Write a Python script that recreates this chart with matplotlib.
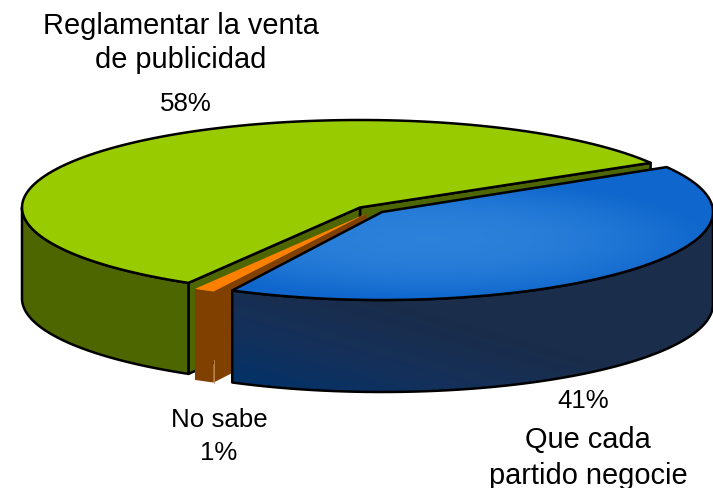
import numpy as np
import matplotlib
matplotlib.use("Agg")
import matplotlib.pyplot as plt
from matplotlib.patches import Polygon
from matplotlib.colors import LinearSegmentedColormap

plt.rcParams['font.family'] = ['Liberation Sans', 'DejaVu Sans']

# data
categories = ["Reglamentar la venta\nde publicidad", "No sabe", "Que cada\npartido negocie"]
values = [58, 1, 41]
percent_labels = ["58%", "1%", "41%"]

# projection / style
START = 30.7
RX, RY, DEPTH = 338, 87.5, 91
BLUE_RX, BLUE_RY, BLUE_DEPTH = 331, 88, 92
CENTERS = [(360, 208.5), (366.5, 214.5), (382, 213)]
LW = 1.8

fig = plt.figure(figsize=(7.13, 4.89), dpi=100)
ax = fig.add_axes([0, 0, 1, 1])


def rim(c, a0, a1, n=120, rx=RX, ry=RY):
    t = np.radians(np.linspace(a0, a1, n))
    return np.column_stack([c[0] + rx * np.cos(t), c[1] - ry * np.sin(t)])


def down(p, d=DEPTH):
    return p + np.array([0, d])


def poly(pts, fc, ec='black', lw=LW, z=1):
    p = Polygon(pts, closed=True, fc=fc, ec=ec, lw=lw, zorder=z, joinstyle='round')
    ax.add_patch(p)
    return p


def grad(patch, arr, cmap, z):
    im = ax.imshow(arr, extent=[0, 713, 489, 0], cmap=cmap, vmin=0, vmax=1,
                   aspect='auto', zorder=z, interpolation='bilinear')
    im.set_clip_path(patch)


edges = START + np.cumsum([0] + values) * 3.6
(g0, g1), (o0, o1), (b0, b1) = zip(edges[:-1], edges[1:])
cg, co, cb = [np.array(c, float) for c in CENTERS]
yy, xx = np.mgrid[0:489, 0:713]

# --- green slice
for a in (g0, g1):
    r = rim(cg, a, a, 1)[0]
    poly([cg, r, down(r), down(cg)], '#4D6600', z=1)
arc = rim(cg, 180, g1)
poly(np.vstack([arc, down(arc)[::-1]]), '#4D6600', z=2)
poly(np.vstack([[cg], rim(cg, g0, g1)]), '#99CC00', z=3)

# --- orange slice
r0, r1 = rim(co, o0, o0, 1)[0], rim(co, o1, o1, 1)[0]
poly([co, r1, down(r1), down(co)], '#804000', ec='none', z=4)
arc = rim(co, o0, o1, 12)
poly(np.vstack([arc, down(arc)[::-1]]), '#804000', ec='none', z=5)
ax.plot([r1[0], r1[0]], [r1[1] + DEPTH * 0.75, r1[1] + DEPTH], color='#C09060', lw=0.6, zorder=5.5)
poly(np.vstack([[co], arc]), '#FF8000', ec='none', z=6)

# --- blue slice
arc = rim(cb, o1, 360, rx=BLUE_RX, ry=BLUE_RY)
wall_pts = np.vstack([arc, down(arc, BLUE_DEPTH)[::-1]])
wall = poly(wall_pts, 'none', ec='none', z=7)
wall_cmap = LinearSegmentedColormap.from_list('w', ['#00336B', '#14305A', '#1A2D4A', '#1A2D4A'])
t = np.clip(((xx - 232) * 0.45 + (393 - yy) * 1.6) / 320, 0, 1)
grad(wall, t, wall_cmap, 7.1)
poly(wall_pts, 'none', z=7.2)

top_pts = np.vstack([[cb], rim(cb, b0, b1, rx=BLUE_RX, ry=BLUE_RY)])
top = poly(top_pts, 'none', ec='none', z=8)
top_cmap = LinearSegmentedColormap.from_list('t', ['#2C82DA', '#0F66CC'])
t = np.clip(((xx - 430) / 280.0) ** 2 + ((yy - 240) / 60.0) ** 2, 0, 1)
grad(top, t, top_cmap, 8.1)
poly(top_pts, 'none', z=8.2)

# --- labels
big, mid = 20.9, 18.6
ls = 1.29
ax.text(181, 43, categories[0], ha='center', va='center', fontsize=big, linespacing=ls, zorder=10)
ax.text(186, 104, percent_labels[0], ha='center', va='center', fontsize=mid, zorder=10)
ax.text(219, 420, categories[1], ha='center', va='center', fontsize=mid, zorder=10)
ax.text(219, 453, percent_labels[1], ha='center', va='center', fontsize=mid, zorder=10)
ax.text(583, 401, percent_labels[2], ha='center', va='center', fontsize=mid, zorder=10)
ax.text(588, 458, categories[2], ha='center', va='center', fontsize=big, linespacing=1.34, zorder=10)

ax.set_xlim(0, 713)
ax.set_ylim(489, 0)
ax.axis('off')
fig.savefig('out.png', dpi=100, facecolor='white')
